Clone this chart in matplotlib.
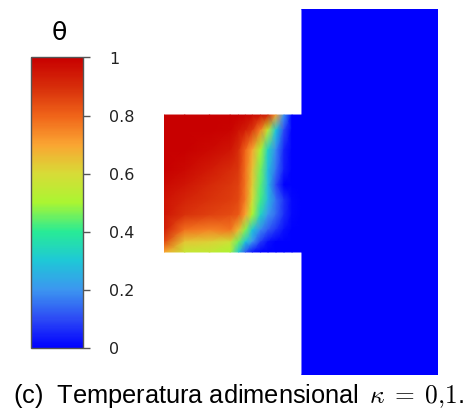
import numpy as np
import matplotlib
matplotlib.use("Agg")
import matplotlib.pyplot as plt
from matplotlib.colors import LinearSegmentedColormap, Normalize
from matplotlib.cm import ScalarMappable

plt.rcParams['font.family'] = ['DejaVu Sans']
plt.rcParams['mathtext.fontset'] = 'cm'

# ---- data: colour scale ----
cb_ticks = [0, 0.2, 0.4, 0.6, 0.8, 1]
cb_ticklabels = ['0', '0.2', '0.4', '0.6', '0.8', '1']
cmap_stops = [0.0, 0.1, 0.2, 0.3, 0.4, 0.5, 0.6, 0.7, 0.8, 0.9, 1.0]
cmap_colors = ['#0000ff', '#2d4bf5', '#3c96f0', '#1ec8d7', '#28eb96', '#aaf532',
               '#d7dc37', '#faa532', '#f06419', '#d72d0a', '#c80000']

# ---- data: temperature field in the inlet channel ----
# channel coordinate along length (0 = inlet, 1 = junction with block)
xi = [0.0, 0.15, 0.33, 0.48, 0.54, 0.59, 0.64, 0.70, 0.754, 0.812, 0.87, 0.928, 1.0]
# channel coordinate across height (1 = top wall, 0 = bottom wall)
eta = [1.0, 0.89, 0.745, 0.60, 0.49, 0.38, 0.27, 0.16, 0.073, 0.0]
theta = [
    [1.00, 1.00, 1.00, 1.00, 1.00, 0.99, 0.98, 0.96, 0.92, 0.70, 0.20, 0.00, 0.00],
    [1.00, 1.00, 1.00, 0.99, 0.96, 0.93, 0.88, 0.75, 0.55, 0.30, 0.10, 0.00, 0.00],
    [1.00, 1.00, 0.98, 0.95, 0.90, 0.80, 0.70, 0.50, 0.33, 0.18, 0.05, 0.00, 0.00],
    [1.00, 0.98, 0.94, 0.90, 0.88, 0.78, 0.65, 0.46, 0.28, 0.15, 0.04, 0.00, 0.00],
    [0.98, 0.95, 0.91, 0.88, 0.86, 0.77, 0.63, 0.44, 0.27, 0.10, 0.00, 0.00, 0.00],
    [0.96, 0.92, 0.89, 0.87, 0.85, 0.76, 0.60, 0.42, 0.27, 0.15, 0.07, 0.01, 0.00],
    [0.95, 0.89, 0.86, 0.84, 0.82, 0.70, 0.50, 0.33, 0.20, 0.14, 0.06, 0.01, 0.00],
    [0.93, 0.78, 0.75, 0.77, 0.66, 0.47, 0.30, 0.18, 0.12, 0.07, 0.02, 0.00, 0.00],
    [0.85, 0.64, 0.62, 0.58, 0.45, 0.30, 0.20, 0.08, 0.02, 0.00, 0.00, 0.00, 0.00],
    [0.70, 0.56, 0.55, 0.50, 0.30, 0.12, 0.03, 0.00, 0.00, 0.00, 0.00, 0.00, 0.00],
]
# the block on the right is at uniform temperature
theta_block = 0.0

caption = r'(c)  Temperatura adimensional $\,\kappa\;=\;0{,}1$.'

# ---- geometry (layout) ----
chan_len, chan_h, chan_y0 = 1.0, 1.0, 0.898
block_x0, block_w, block_h = 1.0, 0.986, 2.672

cmap = LinearSegmentedColormap.from_list('theta', list(zip(cmap_stops, cmap_colors)))
norm = Normalize(0, 1)

fig = plt.figure(figsize=(4.67, 4.19), dpi=100)

ax = fig.add_axes([164/467, 44/419, 274/467, 366/419])
X, Y = np.meshgrid(np.array(xi) * chan_len, chan_y0 + np.array(eta) * chan_h)
ax.pcolormesh(X, Y, np.array(theta), shading='gouraud', cmap=cmap, norm=norm)
bx, by = np.meshgrid([block_x0, block_x0 + block_w], [0, block_h])
ax.pcolormesh(bx, by, np.full((2, 2), theta_block), shading='gouraud', cmap=cmap, norm=norm)
ax.set_xlim(0, block_x0 + block_w)
ax.set_ylim(0, block_h)
ax.axis('off')

cax = fig.add_axes([31.5/467, 71/419, 51.5/467, 290.5/419])
cb = fig.colorbar(ScalarMappable(norm=norm, cmap=cmap), cax=cax)
cb.set_ticks(cb_ticks)
cb.set_ticklabels(cb_ticklabels)
cb.outline.set_edgecolor('#555555')
cb.outline.set_linewidth(1.0)
cax.tick_params(length=5, width=1, color='#555555', pad=14, labelsize=11.5, labelcolor='#222222')
fig.text(59/467, 1 - 33/419, 'θ', ha='center', va='center', fontsize=18)

fig.text(239/467, 1 - 403/419, caption, ha='center', va='baseline', fontsize=18.3,
         family=['Liberation Sans', 'DejaVu Sans'])

fig.savefig('out.png', dpi=100)
